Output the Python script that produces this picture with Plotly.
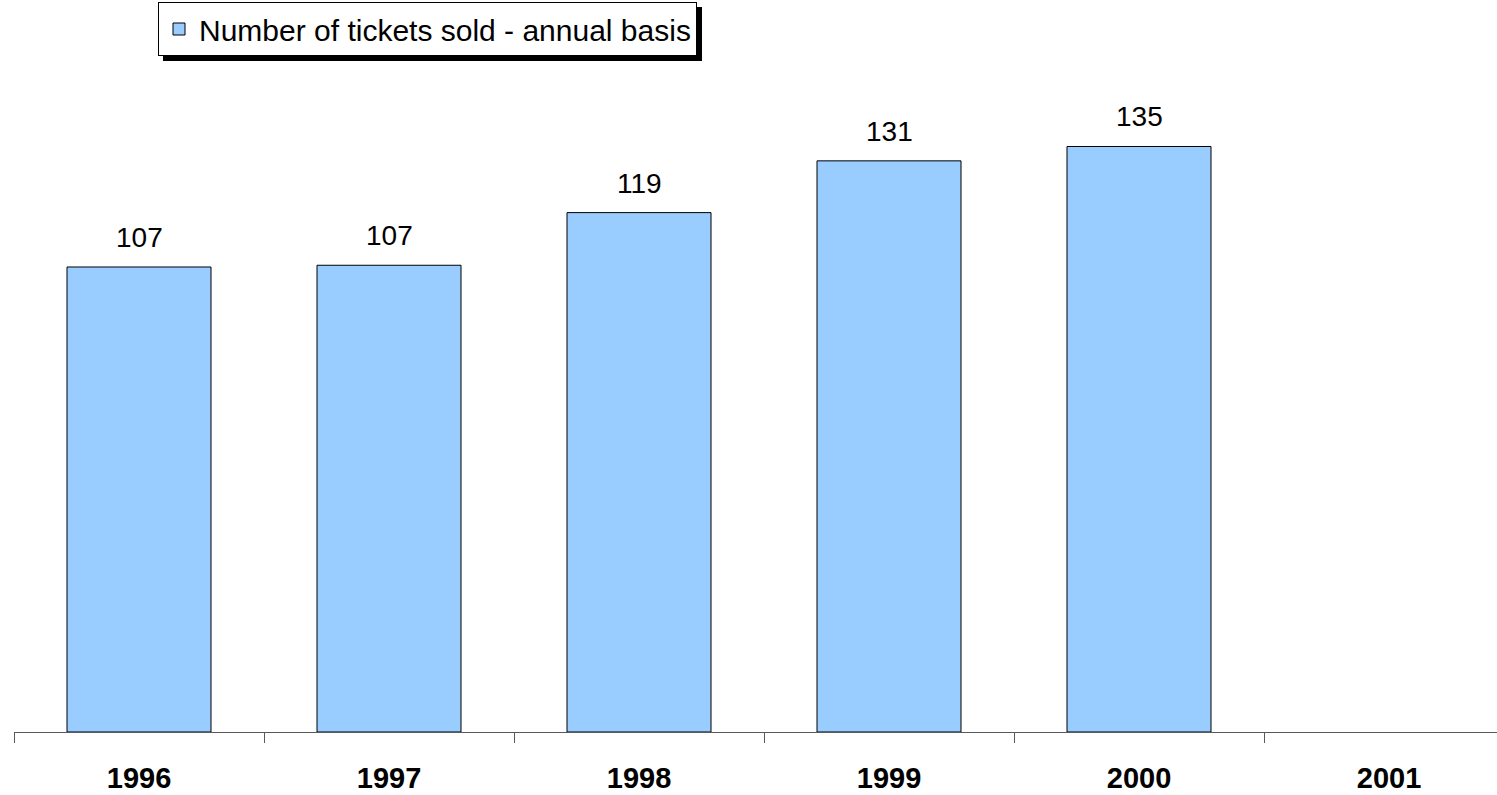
import plotly.graph_objects as go

# Annual ticket sales (millions), 2001 not yet reported
years = ["1996", "1997", "1998", "1999", "2000", "2001"]
tickets = [106.9, 107.3, 119.4, 131.3, 134.6, None]
series_name = "Number of tickets sold - annual basis"

FONT = "Liberation Sans, Arial, sans-serif"
W, H = 1497, 795
M_L, M_R, M_T, M_B = 14, 0, 60, 63
PX_PER_UNIT = 4.35
plot_h = H - M_T - M_B
plot_w = W - M_L - M_R
cat_px = 250.0


def px_x(px):
    """Convert a page x pixel to paper fraction."""
    return (px - M_L) / plot_w


def px_y(py):
    """Convert a page y pixel (from top) to paper fraction."""
    return (H - M_B - py) / plot_h


fig = go.Figure()
fig.add_trace(go.Bar(
    x=years,
    y=tickets,
    name=series_name,
    marker=dict(color="#99CCFF", line=dict(color="#000000", width=1)),
    showlegend=True,
))

# value labels above each bar (category axis positions are indices)
for i, v in enumerate(tickets):
    if v is None:
        continue
    fig.add_annotation(
        x=i, y=v, text=f"{v:.0f}", showarrow=False,
        xref="x", yref="y", yanchor="bottom", yshift=12,
        font=dict(family=FONT, size=28, color="#000000"),
    )

# legend box geometry (page pixels) and its drop shadow
LEG_L, LEG_T, LEG_R, LEG_B = 158, 2, 697, 56
SHADOW = 5
fig.add_shape(
    type="rect", xref="paper", yref="paper",
    x0=px_x(LEG_L + SHADOW), x1=px_x(LEG_R + SHADOW),
    y0=px_y(LEG_B + SHADOW), y1=px_y(LEG_T + SHADOW),
    fillcolor="#000000", line=dict(width=0), layer="above",
)

fig.update_layout(
    width=W, height=H,
    margin=dict(l=M_L, r=M_R, t=M_T, b=M_B, pad=0),
    paper_bgcolor="white", plot_bgcolor="white",
    bargap=0.424,
    font=dict(family=FONT, color="#000000"),
    legend=dict(
        x=px_x(LEG_L), y=px_y(LEG_T), xanchor="left", yanchor="top",
        bgcolor="white", bordercolor="#000000", borderwidth=1,
        font=dict(family=FONT, size=30, color="#000000"),
    ),
    xaxis=dict(
        type="category",
        range=[-0.5, -0.5 + plot_w / cat_px],
        showline=True, linecolor="#595959", linewidth=1,
        ticks="outside", tickson="boundaries", ticklen=10,
        tickcolor="#595959", tickwidth=1,
        ticklabelstandoff=20,
        showgrid=False, zeroline=False,
        tickfont=dict(family=FONT, size=29, color="#000000", weight="bold"),
    ),
    yaxis=dict(
        range=[0, plot_h / PX_PER_UNIT],
        visible=False, showgrid=False, zeroline=False,
    ),
)

fig.write_html("out.html")
